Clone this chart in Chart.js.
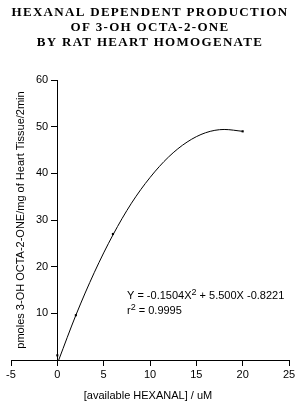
<!DOCTYPE html>
<html><head><meta charset="utf-8">
<script src="https://cdn.jsdelivr.net/npm/chart.js@4/dist/chart.umd.min.js"></script>
<style>html,body{margin:0;padding:0;background:#fff}#wrap{width:300px;height:406px;position:relative}</style>
</head><body><div id="wrap"><canvas id="c" width="300" height="406"></canvas></div>
<script>
const titleLines = ["HEXANAL DEPENDENT PRODUCTION", "OF 3-OH OCTA-2-ONE", "BY RAT HEART HOMOGENATE"];
const xTitle = "[available HEXANAL] / uM";
const yTitle = "pmoles 3-OH OCTA-2-ONE/mg of Heart Tissue/2min";
const hexanal = [0, 2, 6, 20];
const production = [1, 9.6, 27, 49];
const fitX = [0.15, 2, 4, 6, 8, 10, 12, 14, 16, 18, 20];
const fitY = [0, 9.6, 18.8, 26.8, 33.6, 39.1, 43.5, 46.7, 48.7, 49.4, 49];
const xTicks = [-5, 0, 5, 10, 15, 20, 25];
const yTicks = [0, 10, 20, 30, 40, 50, 60];
const eqnLine1 = [["Y = -0.1504X", false], ["2", true], [" + 5.500X -0.8221", false]];
const eqnLine2 = [["r", false], ["2", true], [" = 0.9995", false]];

const FONT = '"Liberation Sans", Arial, sans-serif';

const textPlugin = {
  id: 'texts',
  afterDraw(chart) {
    const ctx = chart.ctx;
    ctx.save();
    ctx.fillStyle = '#000';
    // title
    ctx.font = 'bold 13px "Liberation Serif", "Times New Roman", serif';
    ctx.textAlign = 'center';
    ctx.textBaseline = 'middle';
    try { ctx.letterSpacing = '1.3px'; } catch (e) {}
    titleLines.forEach((t, i) => ctx.fillText(t, 150, 13 + i * 15));
    try { ctx.letterSpacing = '0px'; } catch (e) {}
    // x title
    ctx.font = '11px ' + FONT;
    ctx.fillText(xTitle, 148, 396);
    // y title
    ctx.save();
    ctx.translate(21, 220);
    ctx.rotate(-Math.PI / 2);
    ctx.fillText(yTitle, 0, 0);
    ctx.restore();
    // equation
    ctx.textAlign = 'left';
    ctx.textBaseline = 'alphabetic';
    const drawParts = (parts, x, y) => {
      parts.forEach(([t, sup]) => {
        ctx.font = (sup ? '9px ' : '11px ') + FONT;
        ctx.fillText(t, x, sup ? y - 4 : y);
        x += ctx.measureText(t).width;
      });
    };
    drawParts(eqnLine1, 127, 299);
    drawParts(eqnLine2, 127, 314);
    ctx.restore();
  }
};

new Chart(document.getElementById('c'), {
  type: 'scatter',
  data: {
    datasets: [
      {
        data: fitX.map((x, i) => ({x, y: fitY[i]})),
        showLine: true,
        cubicInterpolationMode: 'monotone',
        borderColor: '#000',
        borderWidth: 1,
        pointRadius: 0,
        fill: false
      },
      {
        data: hexanal.map((x, i) => ({x, y: production[i]})),
        pointStyle: 'rect',
        pointRadius: 1.5,
        backgroundColor: '#000',
        borderColor: '#000',
        borderWidth: 0
      }
    ]
  },
  options: {
    responsive: false,
    animation: false,
    layout: { padding: { left: 11, right: 11, top: 80, bottom: 46 } },
    plugins: { legend: { display: false }, tooltip: { enabled: false }, title: { display: false } },
    scales: {
      x: {
        type: 'linear',
        min: -5, max: 25,
        position: { y: 0 },
        afterBuildTicks: s => { s.ticks = xTicks.map(v => ({value: v})); },
        ticks: { color: '#000', font: { family: FONT, size: 11 }, padding: 3, maxRotation: 0 },
        grid: { display: true, drawOnChartArea: false, drawTicks: true, tickLength: 5, color: '#000' },
        border: { display: true, color: '#000', width: 1 }
      },
      y: {
        type: 'linear',
        min: 0, max: 60,
        position: { x: 0 },
        afterBuildTicks: s => { s.ticks = yTicks.map(v => ({value: v})); },
        ticks: { color: '#000', font: { family: FONT, size: 11 }, callback: v => v === 0 ? '' : String(v) + '   ' },
        grid: { display: true, drawOnChartArea: false, drawTicks: true, tickLength: 6, color: '#000' },
        border: { display: true, color: '#000', width: 1 }
      }
    }
  },
  plugins: [textPlugin]
});
</script></body></html>
